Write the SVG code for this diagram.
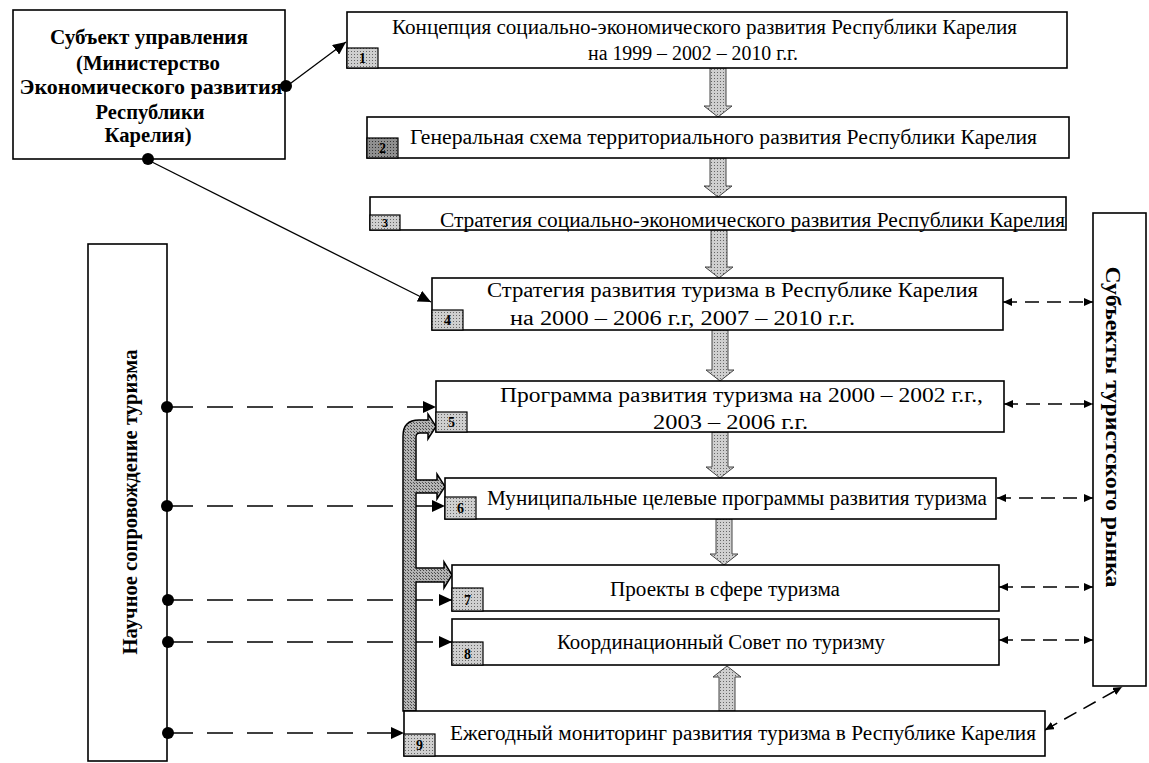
<svg xmlns="http://www.w3.org/2000/svg" width="1149" height="763" viewBox="0 0 1149 763">
<style>
.box{fill:#fff;stroke:#000;stroke-width:1.6}
.num{fill:url(#hatch);stroke:#000;stroke-width:1.2}
.numd{fill:url(#hatchd);stroke:#000;stroke-width:1.2}
text{font-family:'Liberation Serif','DejaVu Serif','Times New Roman',serif}
.t{font-size:20px;fill:#000}
.tb{font-size:20px;font-weight:bold;fill:#000}
.n{font-size:14px;font-weight:bold;fill:#000;text-anchor:middle}
.solid{stroke:#000;stroke-width:1.3;fill:none}
.dl{stroke:#000;stroke-width:1.6;fill:none;stroke-dasharray:26 14}
.dr{stroke:#000;stroke-width:1.5;fill:none;stroke-dasharray:14 8}
.blk{fill:url(#hatch);stroke:#444;stroke-width:1}
.pipe{fill:url(#hatchp);stroke:#000;stroke-width:1.5}
.dot{fill:#000}
</style>
<defs>
<pattern id="hatch" width="3" height="3" patternUnits="userSpaceOnUse"><rect width="3" height="3" fill="#cfcfcf"/><rect width="1" height="1" fill="#666"/></pattern>
<pattern id="hatchd" width="3" height="3" patternUnits="userSpaceOnUse"><rect width="3" height="3" fill="#8f8f8f"/><rect width="1" height="1" fill="#333"/></pattern>
<pattern id="hatchp" width="3" height="3" patternUnits="userSpaceOnUse"><rect width="3" height="3" fill="#b4b4b4"/><rect width="1" height="1" fill="#444"/><rect x="2" y="2" width="1" height="1" fill="#555"/></pattern>
<marker id="ab" markerUnits="userSpaceOnUse" markerWidth="13" markerHeight="12" refX="13" refY="6" orient="auto"><path d="M0,0 L13,6 L0,12 Z" fill="#000"/></marker>
<marker id="as" markerUnits="userSpaceOnUse" markerWidth="9" markerHeight="8" refX="9" refY="4" orient="auto-start-reverse"><path d="M0,0 L9,4 L0,8 Z" fill="#000"/></marker>
</defs>

<g id="connectors">
<line class="solid" x1="287" y1="86" x2="346" y2="42" marker-end="url(#ab)"/>
<line class="solid" x1="148" y1="160" x2="431" y2="302" marker-end="url(#ab)"/>
<line class="dl" x1="167" y1="407" x2="436" y2="407" marker-end="url(#ab)"/>
<line class="dl" x1="167" y1="506" x2="445" y2="506" marker-end="url(#ab)"/>
<line class="dl" x1="167" y1="600" x2="452" y2="600" marker-end="url(#ab)"/>
<line class="dl" x1="167" y1="642" x2="452" y2="642" marker-end="url(#ab)"/>
<line class="dl" x1="167" y1="733" x2="404" y2="733" marker-end="url(#ab)"/>
<line class="dr" x1="1003" y1="302" x2="1093" y2="302" marker-start="url(#as)" marker-end="url(#as)"/>
<line class="dr" x1="1004" y1="404" x2="1093" y2="404" marker-start="url(#as)" marker-end="url(#as)"/>
<line class="dr" x1="997" y1="498" x2="1093" y2="498" marker-start="url(#as)" marker-end="url(#as)"/>
<line class="dr" x1="999" y1="587" x2="1093" y2="587" marker-start="url(#as)" marker-end="url(#as)"/>
<line class="dr" x1="999" y1="640" x2="1093" y2="640" marker-start="url(#as)" marker-end="url(#as)"/>
<line class="dr" x1="1045" y1="730" x2="1122" y2="687" marker-start="url(#as)" marker-end="url(#as)"/>
<path class="pipe" d="M403,711 L403,436 Q403,420 419,420 L428,420 L428,414 L436,426.5 L428,439 L428,433 L420,433 Q416,433 416,437 L416,480 L437,480 L437,474 L445,486.5 L437,499 L437,493 L416,493 L416,568 L444,568 L444,562 L452,575 L444,588 L444,582 L416,582 L416,711 Z"/>
<path class="blk" d="M710,68 L726,68 L726,106 L732,106 L718,117 L704,106 L710,106 Z"/>
<path class="blk" d="M710,158 L726,158 L726,186 L732,186 L718,197 L704,186 L710,186 Z"/>
<path class="blk" d="M711,230 L727,230 L727,267 L733,267 L719,278 L705,267 L711,267 Z"/>
<path class="blk" d="M712,330 L728,330 L728,370 L734,370 L720,381 L706,370 L712,370 Z"/>
<path class="blk" d="M712,432 L728,432 L728,467 L734,467 L720,478 L706,467 L712,467 Z"/>
<path class="blk" d="M716,519 L732,519 L732,554 L738,554 L724,565 L710,554 L716,554 Z"/>
<path class="blk" d="M719,711 L735,711 L735,677 L741,677 L727,666 L713,677 L719,677 Z"/>
</g>

<g id="node-subject">
<rect class="box" x="13" y="10" width="272" height="149"/>
<text class="tb" x="149" y="44" text-anchor="middle" textLength="198" lengthAdjust="spacingAndGlyphs">Субъект управления</text>
<text class="tb" x="148" y="70" text-anchor="middle" textLength="144" lengthAdjust="spacingAndGlyphs">(Министерство</text>
<text class="tb" x="151" y="94" text-anchor="middle" textLength="263" lengthAdjust="spacingAndGlyphs">Экономического развития</text>
<text class="tb" x="150" y="119" text-anchor="middle" textLength="109" lengthAdjust="spacingAndGlyphs">Республики</text>
<text class="tb" x="148" y="142" text-anchor="middle" textLength="87" lengthAdjust="spacingAndGlyphs">Карелия)</text>
<circle class="dot" cx="286" cy="86" r="6"/>
<circle class="dot" cx="148" cy="159" r="6"/>
</g>

<g id="node-1">
<rect class="box" x="347" y="12" width="720" height="56"/>
<rect class="num" x="347" y="48" width="31" height="20"/>
<text class="n" x="362.5" y="63">1</text>
<text class="t" x="392" y="34" textLength="625" lengthAdjust="spacingAndGlyphs">Концепция социально-экономического развития Республики Карелия</text>
<text class="t" x="588" y="60" textLength="210" lengthAdjust="spacingAndGlyphs">на 1999 – 2002 – 2010 г.г.</text>
</g>

<g id="node-2">
<rect class="box" x="367" y="117" width="702" height="41"/>
<rect class="numd" x="367" y="138" width="31" height="20"/>
<text class="n" x="382.5" y="153">2</text>
<text class="t" x="410" y="144" textLength="627" lengthAdjust="spacingAndGlyphs">Генеральная схема территориального развития Республики Карелия</text>
</g>

<g id="node-3">
<rect class="box" x="370" y="197" width="696" height="33"/>
<rect class="num" x="370" y="215" width="30" height="15"/>
<text class="n" x="385" y="227" style="font-size:12px">3</text>
<text class="t" x="440" y="227" textLength="625" lengthAdjust="spacingAndGlyphs">Стратегия социально-экономического развития Республики Карелия</text>
</g>

<g id="node-4">
<rect class="box" x="432" y="278" width="571" height="52"/>
<rect class="num" x="432" y="310" width="31" height="20"/>
<text class="n" x="447.5" y="325">4</text>
<text class="t" x="487" y="297" textLength="491" lengthAdjust="spacingAndGlyphs">Стратегия развития туризма в Республике Карелия</text>
<text class="t" x="510" y="325" textLength="345" lengthAdjust="spacingAndGlyphs">на  2000 – 2006 г.г, 2007 – 2010 г.г.</text>
</g>

<g id="node-5">
<rect class="box" x="436" y="381" width="568" height="51"/>
<rect class="num" x="436" y="412" width="31" height="20"/>
<text class="n" x="451.5" y="427">5</text>
<text class="t" x="500" y="402" textLength="483" lengthAdjust="spacingAndGlyphs">Программа развития туризма на 2000 – 2002 г.г.,</text>
<text class="t" x="653" y="429" textLength="155" lengthAdjust="spacingAndGlyphs">2003 – 2006 г.г.</text>
</g>

<g id="node-6">
<rect class="box" x="445" y="478" width="551" height="41"/>
<rect class="num" x="445" y="497" width="31" height="22"/>
<text class="n" x="460.5" y="513">6</text>
<text class="t" x="487" y="505" textLength="500" lengthAdjust="spacingAndGlyphs">Муниципальные целевые программы развития туризма</text>
</g>

<g id="node-7">
<rect class="box" x="452" y="565" width="547" height="46"/>
<rect class="num" x="452" y="588" width="31" height="23"/>
<text class="n" x="467.5" y="605">7</text>
<text class="t" x="610" y="596" textLength="230" lengthAdjust="spacingAndGlyphs">Проекты в сфере туризма</text>
</g>

<g id="node-8">
<rect class="box" x="452" y="619" width="547" height="46"/>
<rect class="num" x="452" y="642" width="31" height="23"/>
<text class="n" x="467.5" y="659">8</text>
<text class="t" x="557" y="649" textLength="328" lengthAdjust="spacingAndGlyphs">Координационный Совет по туризму</text>
</g>

<g id="node-9">
<rect class="box" x="404" y="711" width="641" height="45"/>
<rect class="num" x="404" y="734" width="31" height="22"/>
<text class="n" x="419.5" y="750">9</text>
<text class="t" x="450" y="740" textLength="586" lengthAdjust="spacingAndGlyphs">Ежегодный мониторинг развития туризма в Республике Карелия</text>
</g>

<g id="node-science">
<rect class="box" x="88" y="244" width="79" height="517"/>
<text class="tb" transform="translate(137,502) rotate(-90)" x="0" y="0" text-anchor="middle" textLength="305" lengthAdjust="spacingAndGlyphs">Научное сопровождение туризма</text>
<circle class="dot" cx="167" cy="407" r="6"/>
<circle class="dot" cx="167" cy="506" r="6"/>
<circle class="dot" cx="168" cy="600" r="6"/>
<circle class="dot" cx="168" cy="642" r="6"/>
<circle class="dot" cx="168" cy="733" r="6"/>
</g>

<g id="node-market">
<rect class="box" x="1093" y="213" width="53" height="473"/>
<text class="tb" transform="translate(1106,427) rotate(90)" x="0" y="0" text-anchor="middle" textLength="321" lengthAdjust="spacingAndGlyphs">Субъекты туристского рынка</text>
</g>
</svg>
